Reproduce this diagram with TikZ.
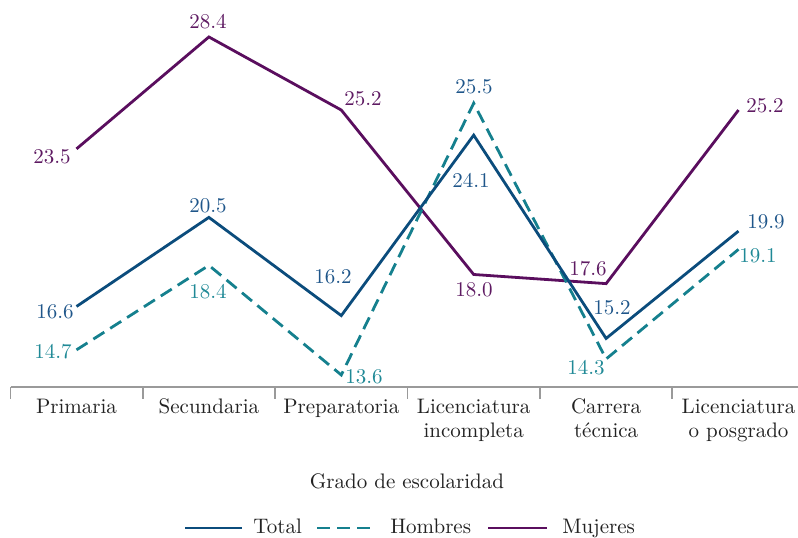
\documentclass[tikz,border=0pt]{standalone}
\usepackage{tikz}
\usetikzlibrary{positioning}
\definecolor{totalblue}{HTML}{0B4C7C}
\definecolor{totaltext}{HTML}{1F568A}
\definecolor{hombresteal}{HTML}{15808E}
\definecolor{hombrestext}{HTML}{1F8996}
\definecolor{mujerespurple}{HTML}{5A0E5E}
\definecolor{mujerestext}{HTML}{5E1A62}
\definecolor{axisgray}{HTML}{9A9A9A}
\definecolor{labelgray}{HTML}{222222}
\tikzset{%
	total line/.style={totalblue, line width=1.4pt},
	hombres line/.style={hombresteal, line width=1.4pt, dash pattern=on 6.5pt off 3.5pt},
	mujeres line/.style={mujerespurple, line width=1.4pt},
	value/.style={font=\fontsize{10.5}{12}\selectfont, inner sep=0pt},
	total value/.style={value, text=totaltext},
	hombres value/.style={value, text=hombrestext},
	mujeres value/.style={value, text=mujerestext},
	category/.style={
		font=\fontsize{10.5}{12}\selectfont,
		text=labelgray,
		align=center,
		anchor=base,
		inner sep=0pt
	},
}

\begin{document}
\begin{tikzpicture}[x=0.5pt, y=-0.5pt]
			\useasboundingbox (0,0) rectangle (798,537);

			% data points (value axis)
			\begin{scope}[y=11.42pt, yshift=-342.8pt]
				\coordinate (t1) at (76.5,16.6);
				\coordinate (t2) at (208.9,20.5);
				\coordinate (t3) at (341.3,16.2);
				\coordinate (t4) at (473.7,24.1);
				\coordinate (t5) at (606.1,15.2);
				\coordinate (t6) at (738.5,19.9);

				\coordinate (h1) at (76.5,14.7);
				\coordinate (h2) at (208.9,18.4);
				\coordinate (h3) at (341.3,13.6);
				\coordinate (h4) at (473.7,25.5);
				\coordinate (h5) at (606.1,14.3);
				\coordinate (h6) at (738.5,19.1);

				\coordinate (m1) at (76.5,23.5);
				\coordinate (m2) at (208.9,28.4);
				\coordinate (m3) at (341.3,25.2);
				\coordinate (m4) at (473.7,18.0);
				\coordinate (m5) at (606.1,17.6);
				\coordinate (m6) at (738.5,25.2);
			\end{scope}

			\draw[mujeres line] (m1) -- (m2) -- (m3) -- (m4) -- (m5) -- (m6);
			\draw[hombres line] (h1) -- (h2) -- (h3) -- (h4) -- (h5) -- (h6);
			\draw[total line] (t1) -- (t2) -- (t3) -- (t4) -- (t5) -- (t6);

			% values
			\node[mujeres value] (vm1) at (52,157) {23.5};
			\node[mujeres value] (vm2) at (208,22) {28.4};
			\node[mujeres value] (vm3) at (363,99) {25.2};
			\node[mujeres value] (vm4) at (474,290) {18.0};
			\node[mujeres value] (vm5) at (588,269) {17.6};
			\node[mujeres value] (vm6) at (765,106) {25.2};

			\node[total value] (vt1) at (55,312) {16.6};
			\node[total value] (vt2) at (208,206) {20.5};
			\node[total value] (vt3) at (333,277) {16.2};
			\node[total value] (vt4) at (471,180) {24.1};
			\node[total value] (vt5) at (612,308) {15.2};
			\node[total value] (vt6) at (766,222) {19.9};

			\node[hombres value] (vh1) at (53,352) {14.7};
			\node[hombres value] (vh2) at (208,292) {18.4};
			\node[hombres value] (vh3) at (364,377) {13.6};
			\node[total value] (vh4) at (474,87) {25.5};
			\node[hombres value] (vh5) at (586,368) {14.3};
			\node[hombres value] (vh6) at (758,256) {19.1};

			% axis
			\coordinate (a0) at (10.5,387);
			\coordinate (a1) at (798,387);
			\draw[axisgray, line width=0.8pt] (a0) -- (a1);
			\foreach \i in {0,...,5}
				\draw[axisgray, line width=0.8pt] (10.5+132.3*\i,387) -- ++(0,12);

			\node[category] (c1) at (76.5,413) {Primaria};
			\node[category] (c2) at (208.9,413) {Secundaria};
			\node[category] (c3) at (341.3,413) {Preparatoria};
			\node[category] (c4) at (473.7,437) {Licenciatura\\incompleta};
			\node[category] (c5) at (606.1,437) {Carrera\\t\'ecnica};
			\node[category] (c6) at (738.5,437) {Licenciatura\\o posgrado};

			\node[category] (xtitle) at (407,488) {Grado de escolaridad};

			% legend
			\coordinate (lt0) at (185,528);
			\coordinate (lt1) at (242,528);
			\coordinate (lh0) at (317,528);
			\coordinate (lh1) at (375,528);
			\coordinate (lm0) at (488,528);
			\coordinate (lm1) at (547,528);
			\draw[total line] (lt0) -- (lt1);
			\draw[hombres line] (lh0) -- (lh1);
			\draw[mujeres line] (lm0) -- (lm1);
			\node[category, anchor=base west] (ltotal) at (253,533) {Total};
			\node[category, anchor=base west] (lhombres) at (390,533) {Hombres};
			\node[category, anchor=base west] (lmujeres) at (562,533) {Mujeres};

		\end{tikzpicture}
\end{document}
